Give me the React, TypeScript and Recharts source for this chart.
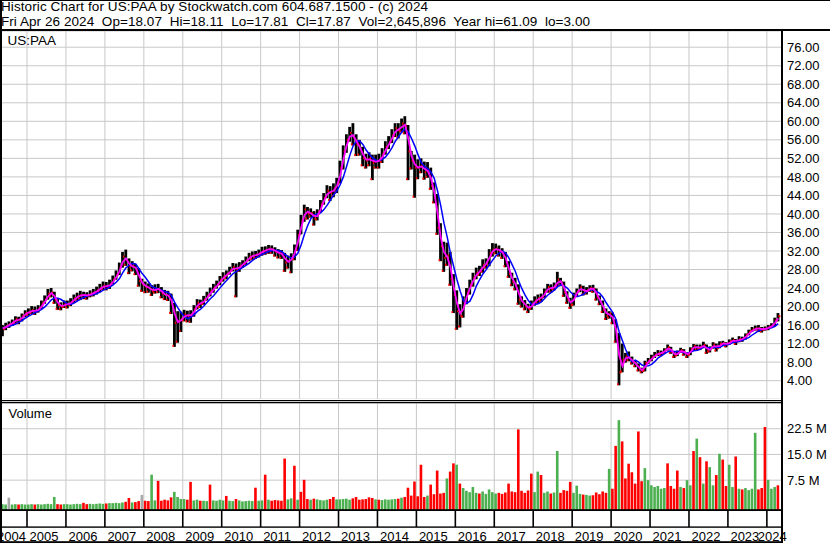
import React from "react";
import { ComposedChart, Bar, Line, XAxis, YAxis, CartesianGrid } from "recharts";

const FONT = '"Liberation Sans", Arial, Helvetica, sans-serif';

const headerTitle = "Historic Chart for US:PAA by Stockwatch.com 604.687.1500 - (c) 2024";
const headerQuote = "Fri Apr 26 2024  Op=18.07  Hi=18.11  Lo=17.81  Cl=17.87  Vol=2,645,896  Year hi=61.09  lo=3.00";
const symbolLabel = "US:PAA";
const volumeLabel = "Volume";

// monthly bars, first bar = May 2004, last bar = April 2024
const firstYear = 2004;
const firstMonth = 5;
const domainStart = 2004.3066;
const domainEnd = 2024.3631;

const yearStarts = [2005, 2006, 2007, 2008, 2009, 2010, 2011, 2012, 2013, 2014, 2015, 2016, 2017, 2018, 2019, 2020, 2021, 2022, 2023, 2024];
const yearLabels = ["2004", "2005", "2006", "2007", "2008", "2009", "2010", "2011", "2012", "2013", "2014", "2015", "2016", "2017", "2018", "2019", "2020", "2021", "2022", "2023", "2024"];
const priceTicks = [4, 8, 12, 16, 20, 24, 28, 32, 36, 40, 44, 48, 52, 56, 60, 64, 68, 72, 76];
const volumeTicks = [7.5, 15, 22.5];

const closes = [
  15.3, 15.8, 16.2, 16.6, 17.3, 17.0, 18.0, 18.6,
  18.8, 19.2, 19.0, 19.5, 20.5, 21.5, 22.8, 23.0, 21.5, 20.3, 20.0, 20.5,
  20.5, 21.0, 21.8, 22.2, 22.5, 22.5, 22.3, 22.8, 23.0, 23.5, 24.0, 24.5,
  24.3, 24.8, 25.8, 26.8, 28.5, 30.8, 30.0, 28.5, 28.8, 28.0, 25.5, 24.8,
  24.2, 24.0, 23.3, 23.8, 23.8, 22.8, 22.5, 22.3, 20.5, 16.5, 16.8, 17.3,
  18.3, 18.0, 18.2, 19.5, 20.8, 20.6, 21.5, 22.3, 23.3, 24.0, 24.8, 25.8,
  26.5, 27.0, 27.8, 28.5, 28.0, 28.8, 29.3, 30.0, 30.8, 31.0, 31.2, 31.5,
  32.0, 32.2, 32.5, 32.3, 31.8, 31.5, 31.3, 29.5, 29.8, 30.5, 32.5, 35.5,
  38.5, 41.0, 40.0, 40.2, 39.0, 40.0, 42.0, 43.5, 45.0, 44.5, 45.5, 46.5,
  50.0, 53.5, 56.0, 57.5, 56.5, 55.0, 54.0, 52.0, 51.5, 52.0, 51.0, 51.5,
  51.5, 53.0, 54.5, 55.5, 57.0, 58.5, 58.0, 59.5, 59.0, 53.5, 51.5, 50.0,
  50.0, 50.5, 49.0, 49.5, 46.0, 43.5, 37.0, 33.0, 30.5, 31.0, 26.0, 22.5,
  19.0, 18.0, 21.0, 23.0, 24.8, 26.3, 27.3, 27.8, 29.0, 29.5, 31.5, 32.3,
  32.5, 32.0, 31.5, 29.5, 27.0, 25.3, 24.5, 21.5, 21.0, 20.0, 19.5, 20.5,
  21.3, 21.8, 22.0, 23.2, 24.2, 23.8, 24.5, 25.8, 25.2, 23.0, 21.5, 20.3,
  22.5, 23.3, 24.2, 23.0, 23.5, 24.0, 23.8, 22.0, 21.0, 19.3, 18.0, 18.5,
  17.0, 13.2, 5.8, 8.5, 9.2, 8.9, 8.0, 7.5, 6.4, 6.1, 7.8, 8.3,
  9.0, 9.6, 9.9, 10.0, 10.6, 11.2, 10.2, 9.4, 10.1, 10.6, 9.9, 9.5,
  10.8, 11.5, 11.0, 11.3, 11.7, 10.3, 11.0, 11.8, 11.0, 12.0, 12.1, 11.8,
  12.4, 12.8, 12.5, 13.0, 13.0, 13.8, 14.5, 15.0, 15.3, 15.3, 15.0, 15.3,
  15.5, 15.9, 17.0, 17.9,
];

const highs = [
  16.0, 16.5, 16.8, 17.2, 17.9, 17.8, 18.5, 19.2,
  19.6, 20.1, 20.0, 20.3, 21.3, 22.4, 23.8, 24.0, 23.2, 21.6, 20.9, 21.3,
  21.3, 21.8, 22.6, 23.0, 23.4, 23.2, 23.1, 23.5, 23.8, 24.3, 24.9, 25.4,
  25.3, 25.8, 26.7, 27.8, 29.5, 31.8, 32.3, 30.4, 29.8, 29.2, 28.3, 26.0,
  25.4, 25.0, 24.6, 24.8, 24.9, 24.2, 23.6, 23.4, 22.8, 20.8, 19.0, 18.9,
  19.3, 19.1, 19.2, 20.3, 21.6, 21.5, 22.3, 23.2, 24.1, 24.9, 25.6, 26.6,
  27.4, 27.8, 28.6, 29.4, 29.3, 29.6, 30.0, 30.8, 31.6, 31.9, 32.0, 32.3,
  32.9, 33.0, 33.3, 33.2, 32.8, 32.4, 32.2, 31.6, 31.0, 31.5, 33.4, 36.6,
  39.8, 42.0, 41.5, 41.2, 40.6, 41.0, 43.0, 44.5, 46.2, 46.0, 46.6, 47.8,
  51.5, 54.8, 57.2, 58.8, 59.6, 57.2, 56.0, 54.5, 53.0, 53.3, 52.8, 52.8,
  53.0, 54.2, 55.7, 56.8, 58.3, 59.6, 59.6, 60.6, 61.1, 59.2, 53.6, 52.8,
  51.8, 52.0, 51.3, 51.2, 50.0, 46.8, 44.3, 38.0, 34.0, 33.8, 31.8, 27.0,
  23.5, 20.5, 22.2, 24.0, 25.8, 27.3, 28.4, 28.8, 30.2, 30.4, 32.4, 33.7,
  33.6, 33.2, 32.6, 31.8, 29.8, 27.3, 26.2, 24.8, 22.2, 21.4, 20.6, 21.3,
  22.2, 22.6, 22.8, 23.9, 24.9, 24.8, 25.2, 27.5, 26.2, 25.4, 23.3, 21.9,
  23.0, 23.9, 24.8, 24.5, 24.2, 24.6, 24.7, 23.9, 22.4, 21.3, 19.6, 19.0,
  18.7, 17.2, 14.3, 12.0, 10.0, 10.3, 9.2, 8.4, 7.7, 6.8, 8.3, 8.9,
  9.6, 10.2, 10.6, 10.5, 11.0, 11.8, 11.3, 10.2, 10.5, 11.1, 10.8, 10.1,
  11.2, 11.9, 11.8, 11.8, 12.4, 11.8, 11.4, 12.3, 12.0, 12.5, 12.6, 12.3,
  12.9, 13.3, 13.0, 13.6, 13.5, 14.2, 15.0, 15.6, 15.9, 16.0, 15.6, 15.7,
  16.0, 16.4, 17.6, 18.6,
];

const lows = [
  13.6, 14.9, 15.4, 15.8, 16.3, 16.2, 16.8, 17.7,
  18.0, 18.4, 18.2, 18.7, 19.5, 20.6, 21.5, 22.0, 20.6, 19.3, 19.2, 19.7,
  19.6, 20.1, 20.8, 21.3, 21.4, 21.6, 21.5, 22.0, 22.2, 22.6, 23.1, 23.6,
  23.5, 23.8, 24.8, 25.8, 26.8, 28.4, 28.8, 27.0, 27.6, 26.8, 24.3, 23.2,
  22.9, 23.0, 22.3, 22.8, 22.9, 21.8, 21.4, 21.2, 18.4, 11.3, 12.2, 14.5,
  16.8, 16.6, 16.5, 17.8, 19.4, 19.7, 20.4, 21.3, 22.2, 23.0, 23.9, 24.6,
  25.4, 25.9, 26.9, 27.6, 22.0, 27.5, 28.4, 29.0, 29.8, 30.1, 30.3, 30.6,
  31.0, 31.2, 31.4, 31.4, 30.8, 30.4, 30.3, 27.5, 28.2, 27.2, 30.0, 32.0,
  35.6, 38.3, 38.8, 39.2, 37.5, 38.6, 40.3, 42.0, 43.4, 42.8, 43.6, 44.5,
  46.6, 49.6, 53.2, 55.6, 54.8, 52.5, 52.6, 50.3, 49.8, 50.3, 47.3, 49.8,
  49.8, 51.0, 52.8, 54.0, 55.3, 56.6, 56.3, 57.6, 57.2, 47.3, 49.6, 43.5,
  47.5, 48.8, 47.4, 47.8, 45.2, 42.3, 35.5, 29.8, 27.5, 28.8, 24.5, 18.6,
  15.0, 15.5, 17.6, 20.5, 22.6, 24.3, 25.9, 26.6, 27.3, 28.2, 28.7, 30.8,
  31.3, 30.8, 30.3, 28.5, 26.2, 24.4, 23.5, 20.4, 19.8, 19.2, 18.6, 19.3,
  20.2, 20.6, 21.0, 21.9, 23.0, 23.0, 23.5, 24.3, 24.4, 22.1, 20.6, 19.5,
  20.2, 22.3, 23.1, 22.4, 22.6, 23.2, 23.0, 21.3, 20.3, 18.6, 17.1, 17.4,
  16.2, 12.2, 3.0, 5.8, 7.9, 8.2, 7.5, 6.9, 6.0, 5.6, 6.0, 7.6,
  8.2, 8.9, 9.3, 9.3, 9.8, 10.5, 9.8, 8.9, 9.3, 10.0, 9.4, 8.9,
  9.5, 10.6, 10.4, 10.6, 11.0, 9.8, 10.1, 10.9, 10.3, 11.0, 11.5, 11.2,
  11.8, 12.3, 11.7, 12.3, 12.4, 12.9, 13.8, 14.5, 14.8, 14.5, 14.4, 14.8,
  14.9, 15.4, 15.7, 16.8,
];

// volume in millions of shares
const volumes = [
  0.5, 0.4, 2.4, 0.4, 0.5, 0.4, 0.5, 0.4,
  0.4, 0.5, 0.4, 0.5, 0.4, 0.5, 0.6, 0.5, 2.6, 0.5, 0.4, 0.5,
  0.5, 0.4, 0.5, 0.6, 0.5, 0.9, 0.5, 0.6, 0.5, 0.6, 0.7, 0.6,
  0.7, 0.8, 0.8, 0.9, 0.8, 1.0, 1.2, 2.3, 1.0, 1.1, 1.4, 3.2,
  1.5, 1.4, 9.1, 1.6, 7.3, 1.5, 1.8, 1.6, 2.5, 4.1, 2.6, 2.0,
  2.0, 1.8, 7.0, 1.6, 1.8, 1.5, 1.5, 1.4, 6.2, 1.6, 1.5, 1.8,
  1.6, 2.9, 1.5, 1.4, 2.0, 1.6, 1.3, 1.4, 1.5, 1.4, 5.3, 1.5,
  1.6, 9.1, 1.8, 1.5, 1.7, 1.6, 1.5, 13.8, 1.9, 2.2, 11.7, 1.8,
  4.1, 7.6, 2.0, 1.8, 2.1, 1.9, 1.7, 1.6, 1.8, 2.0, 2.6, 1.9,
  1.9, 2.0, 2.1, 1.8, 2.2, 2.6, 1.8, 1.9, 2.0, 2.5, 2.3, 1.9,
  1.8, 1.7, 1.9, 1.8, 1.9, 2.0, 2.1, 2.4, 2.6, 5.3, 3.0, 7.1,
  2.8, 12.0, 2.6, 3.0, 6.2, 3.4, 10.3, 3.6, 3.8, 8.0, 10.0, 12.4,
  12.0, 6.5, 5.2, 4.4, 4.0, 5.5, 3.8, 3.6, 4.2, 3.5, 4.8, 4.0,
  3.6, 3.8, 3.5, 3.9, 6.5, 4.2, 4.0, 22.3, 4.4, 3.8, 4.5, 9.4,
  4.0, 10.0, 9.0, 3.8, 4.2, 3.6, 3.9, 16.0, 3.8, 4.6, 4.4, 7.0,
  3.8, 5.9, 3.5, 3.3, 3.2, 3.0, 3.1, 3.9, 3.4, 4.2, 3.8, 10.8,
  5.0, 17.5, 25.0, 18.8, 8.0, 12.3, 9.8, 6.5, 21.7, 7.2, 11.0, 7.5,
  6.0, 5.5, 5.8, 5.0, 5.2, 12.4, 5.8, 5.0, 10.3, 5.5, 5.2, 7.5,
  6.0, 16.0, 19.6, 14.2, 6.5, 13.0, 11.3, 6.0, 9.0, 15.2, 13.5, 5.8,
  12.0, 5.5, 14.4, 5.0, 4.8, 5.2, 4.6, 5.0, 21.3, 4.8, 5.2, 23.0,
  7.6, 5.0, 5.5, 6.0,
];

// 1 = up period, -1 = down period, 0 = unchanged
const volumeDirection = [
  1, 1, 0, 1, 1, -1, 1, 1,
  1, 1, -1, 1, 1, 1, 1, 1, 1, -1, -1, 1,
  1, 1, 1, 1, 1, -1, -1, 1, 1, 1, 1, 1,
  -1, 1, 1, 1, 1, 1, -1, -1, 1, -1, -1, 0,
  -1, -1, 1, 1, -1, -1, -1, -1, -1, 1, 1, 1,
  1, -1, -1, 1, 1, -1, 1, 1, -1, 1, 1, 1,
  1, -1, 1, 1, -1, 1, 1, 1, 1, 1, -1, 1,
  1, -1, 1, -1, -1, -1, -1, -1, 1, 1, -1, 1,
  -1, -1, -1, 1, -1, 1, 1, 1, 1, -1, -1, 1,
  1, 1, 1, 1, -1, -1, -1, -1, -1, -1, -1, 1,
  -1, 1, 1, 1, 1, 1, -1, 1, -1, -1, -1, -1,
  -1, -1, -1, 1, -1, -1, -1, -1, -1, 1, -1, -1,
  1, -1, 1, 1, 1, 1, 1, -1, 1, 1, 1, 1,
  1, -1, -1, -1, -1, -1, -1, -1, -1, -1, -1, -1,
  1, 1, -1, 1, 1, -1, 1, 1, -1, -1, -1, -1,
  1, 1, 1, -1, 1, 1, -1, -1, -1, -1, -1, 1,
  -1, -1, 1, -1, -1, -1, -1, -1, -1, -1, 1, 1,
  1, 1, 1, 1, 1, -1, -1, -1, -1, 1, -1, 1,
  1, -1, 1, -1, 1, -1, 1, 1, -1, 1, -1, -1,
  1, 1, -1, 1, -1, 1, 1, 1, 1, -1, -1, -1,
  1, 1, 1, -1,
];

const movingAverage = (arr: number[], n: number) =>
  arr.map((_, i) => {
    const s = arr.slice(Math.max(0, i - n + 1), i + 1);
    return s.reduce((a, b) => a + b, 0) / s.length;
  });

const fastMA = movingAverage(closes, 2);
const slowMA = movingAverage(closes, 5);

const data = closes.map((c, i) => {
  const mi = firstMonth - 1 + i;
  const t = firstYear + Math.floor(mi / 12) + ((mi % 12) + 0.5) / 12;
  return {
    t,
    range: [lows[i], highs[i]],
    high: highs[i],
    low: lows[i],
    close: c,
    fast: fastMA[i],
    slow: slowMA[i],
    volume: volumes[i],
    dir: volumeDirection[i],
  };
});

const axisTicks = [domainStart, ...yearStarts];

const PriceBar = (p: any) => {
  const { x, y, width, height, payload } = p;
  if (x == null || y == null || !payload) return null;
  const h = Math.max(height || 0, 1);
  const span = payload.high - payload.low;
  const cy = span > 0 ? y + ((payload.high - payload.close) / span) * h : y;
  return (
    <g>
      <rect x={x} y={y} width={width} height={h} fill="#000000" />
      <rect x={x + width - 1} y={cy - 1} width={2} height={2} fill="#ff0000" />
      <rect x={x - 0.6} y={y + h - 2} width={1.6} height={2} fill="#ff0000" />
    </g>
  );
};

const VolBar = (p: any) => {
  const { x, y, width, height, payload, background } = p;
  if (x == null || y == null || !payload) return null;
  const bottom = background && background.height ? background.y + background.height : y + (height || 0) + 4;
  const fill = payload.dir > 0 ? "#4caf50" : payload.dir < 0 ? "#ff0000" : "#a8a8a8";
  return <rect x={x} y={y} width={width} height={Math.max(bottom - y, 0)} fill={fill} />;
};

const YearTick = (p: any) => {
  const { x, y, payload } = p;
  const idx = axisTicks.indexOf(payload.value);
  if (idx < 0) return null;
  const label = yearLabels[idx];
  if (idx === 0) {
    return (
      <text x={x - 3} y={y + 30.5} fontSize={13} fontFamily={FONT} fill="#000" textAnchor="start">
        {label}
      </text>
    );
  }
  const isLast = idx === axisTicks.length - 1;
  return (
    <g>
      <line x1={x} x2={x} y1={y} y2={y + 17} stroke="#000" strokeWidth={1.6} />
      <text x={isLast ? x - 9 : x + 2.5} y={y + 30.5} fontSize={13} fontFamily={FONT} fill="#000" textAnchor="start">
        {label}
      </text>
    </g>
  );
};

export default function App() {
  return (
    <div style={{ position: "relative", width: 830, height: 543, background: "#ffffff", overflow: "hidden", fontFamily: FONT }}>
      <style>{"body{margin:0;}"}</style>
      <div style={{ position: "absolute", left: 0, top: 31 }}>
        <ComposedChart width={830} height={368.2} data={data} margin={{ top: 0, right: 0, bottom: 0, left: 0 }}>
          <CartesianGrid stroke="#c8c8c8" strokeWidth={1} verticalValues={yearStarts} />
          <XAxis type="number" dataKey="t" domain={[domainStart, domainEnd]} ticks={yearStarts} hide allowDataOverflow />
          <YAxis
            orientation="right"
            domain={[0, 79.5]}
            ticks={priceTicks}
            interval={0}
            width={49}
            axisLine={false}
            tickLine={false}
            tickSize={0}
            tickMargin={6}
            allowDataOverflow
            tickFormatter={(v: number) => v.toFixed(2)}
            tick={{ fontSize: 13, fill: "#000", fontFamily: FONT }}
          />
          <Bar dataKey="range" barSize={2.8} shape={(props: any) => <PriceBar {...props} />} isAnimationActive={false} />
          <Line type="linear" dataKey="slow" stroke="#0000ff" strokeWidth={1.5} dot={false} activeDot={false} isAnimationActive={false} />
          <Line type="linear" dataKey="fast" stroke="#ff00ff" strokeWidth={1.8} dot={false} activeDot={false} isAnimationActive={false} />
        </ComposedChart>
      </div>
      <div style={{ position: "absolute", left: 0, top: 403 }}>
        <ComposedChart width={830} height={140} data={data} margin={{ top: 0, right: 0, bottom: 0, left: 0 }}>
          <CartesianGrid stroke="#c8c8c8" strokeWidth={1} verticalValues={yearStarts} />
          <XAxis
            type="number"
            dataKey="t"
            domain={[domainStart, domainEnd]}
            ticks={axisTicks}
            interval={0}
            height={33}
            axisLine={false}
            tickLine={false}
            tickSize={0}
            tickMargin={0}
            allowDataOverflow
            tick={(props: any) => <YearTick {...props} />}
          />
          <YAxis
            orientation="right"
            domain={[-1.2, 30]}
            ticks={volumeTicks}
            interval={0}
            width={49}
            axisLine={false}
            tickLine={false}
            tickSize={0}
            tickMargin={6}
            allowDataOverflow
            tickFormatter={(v: number) => `${v.toFixed(1)} M`}
            tick={{ fontSize: 13, fill: "#000", fontFamily: FONT }}
          />
          <Bar dataKey="volume" barSize={2.6} shape={(props: any) => <VolBar {...props} />} isAnimationActive={false} />
        </ComposedChart>
      </div>
      <svg width={830} height={543} style={{ position: "absolute", left: 0, top: 0, pointerEvents: "none" }}>
        <rect x={0} y={0} width={830} height={1} fill="#000" />
        <text x={1} y={11.4} fontSize={13.5} fontFamily={FONT} fill="#000" textLength={427} lengthAdjust="spacing" style={{ whiteSpace: "pre" }}>
          {headerTitle}
        </text>
        <text x={1} y={26.4} fontSize={13.5} fontFamily={FONT} fill="#000" textLength={589} lengthAdjust="spacing" style={{ whiteSpace: "pre" }}>
          {headerQuote}
        </text>
        <rect x={0} y={29} width={830} height={2} fill="#000" />
        <text x={7.5} y={45} fontSize={13.5} fontFamily={FONT} fill="#000">
          {symbolLabel}
        </text>
        <rect x={0} y={400} width={781} height={1.2} fill="#000" />
        <rect x={0} y={402} width={781} height={1.2} fill="#000" />
        <text x={8.5} y={418} fontSize={13} fontFamily={FONT} fill="#000">
          {volumeLabel}
        </text>
        <rect x={0} y={509.2} width={781} height={1.8} fill="#000" />
        <rect x={0} y={526.4} width={781} height={1.4} fill="#000" />
        <rect x={0} y={541.2} width={783} height={1.8} fill="#000" />
        <rect x={0} y={0} width={2} height={543} fill="#000" />
        <rect x={781} y={29} width={2} height={514} fill="#000" />
      </svg>
    </div>
  );
}
